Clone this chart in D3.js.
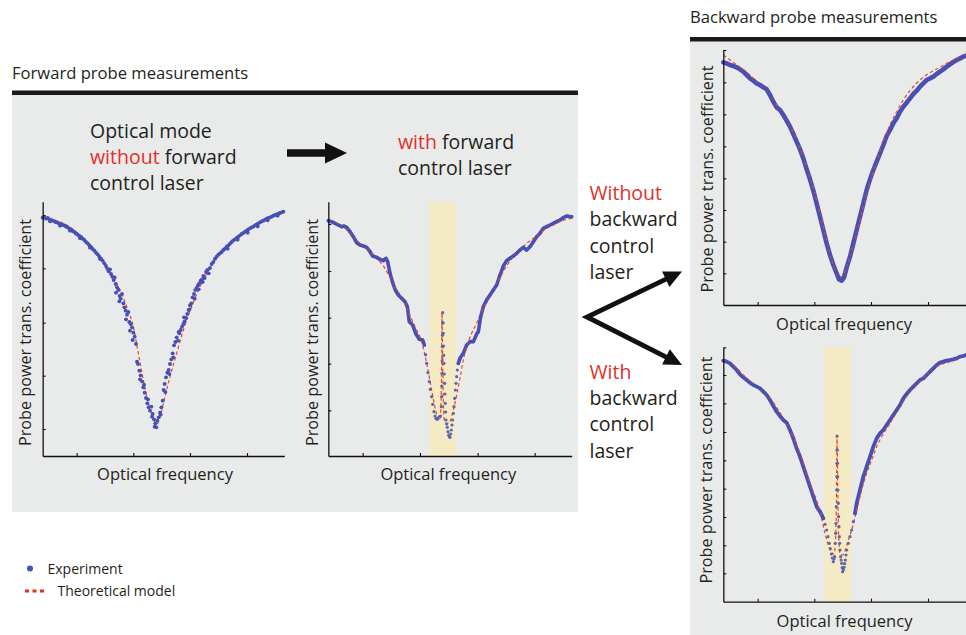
<!DOCTYPE html>
<html>
<head>
<meta charset="utf-8">
<script src="https://cdn.jsdelivr.net/npm/d3@7.9.0/dist/d3.min.js"></script>
<style>
  html, body { margin: 0; padding: 0; background: #fff; }
  svg { display: block; font-family: "Open Sans", sans-serif; }
  .lbl { fill: #231f20; }
  .red { fill: #e0302a; }
</style>
</head>
<body>
<svg id="fig" width="966" height="635"></svg>
<script>
// ---- data (frequency and transmission in arbitrary units) ----

// forward probe, control laser off
const exp1 = [[0,71.5],[0.5,71.6],[1,71.2],[1.5,71.4],[2,71],[2.5,70.8],[3,70.6],[3.5,70.4],[4,70.1],[4.5,70],
  [5,69.7],[5.5,69.5],[6,69.3],[6.5,69.2],[7,68.8],[7.5,68.6],[8,68.2],[8.5,67.9],[9,67.5],[9.5,67.2],
  [10,66.7],[10.5,66.4],[11,66],[11.5,65.7],[12,65.2],[12.5,64.8],[13,64.2],[13.5,63.8],[14,63.2],[14.5,62.7],
  [15,62.1],[15.5,61.6],[16,61],[16.5,60.5],[17,59.8],[17.5,59.2],[18,58.6],[18.5,57.8],[19,57],[19.4,56.2],
  [19.8,55.4],[20.2,56],[20.5,54.6],[20.9,53.8],[21.3,52.8],[21.6,53.6],[21.9,51.6],[22.3,50.6],[22.7,49.8],[23.1,48],
  [23.4,47.2],[23.8,48.6],[24.2,45.8],[24.5,44.6],[24.9,43.6],[25.3,42.4],[25.7,43.2],[26,40.2],[26.4,39.6],[26.8,38.6],
  [27.2,37],[27.6,35.8],[28,33.6],[28.3,28.3],[28.6,27.6],[29,25.6],[29.4,24.2],[29.8,22.4],[30.2,20.6],[30.6,19],
  [31,17.4],[31.4,15.8],[31.8,14.6],[32.2,13.6],[32.6,14.8],[33,12.6],[33.4,11],[33.8,9.8],[34.1,8.6],[34.4,10.6],
  [34.8,11.6],[35.2,13],[35.6,14.6],[36,16.6],[36.3,19.8],[36.6,21.6],[37,23.6],[37.4,25],[37.8,25.8],[38.2,27.6],
  [38.6,29],[39,30.8],[39.4,33.2],[39.8,34.2],[40.2,35.6],[40.6,34.6],[41,36.8],[41.4,37.8],[41.8,38.8],[42.2,39.6],
  [42.6,40.4],[43,41.4],[43.4,42.6],[43.8,43.8],[44.2,45.2],[44.6,45.8],[45,47.6],[45.4,48.6],[45.8,49.8],[46.2,50.4],
  [46.6,51.2],[47,51.8],[47.4,52.6],[47.8,53],[48.2,54],[48.6,53.4],[49,55.2],[49.4,55.8],[49.8,54.8],[50.2,56.4],
  [50.7,57.6],[51.2,58.2],[51.7,59.2],[52.2,59.8],[52.7,60.4],[53.2,60.8],[53.7,61.2],[54.2,61.8],[54.7,62.2],[55.2,62.8],
  [55.7,63.2],[56.2,63.7],[56.7,64.2],[57.2,64.7],[57.7,65],[58.2,65.4],[58.7,65.8],[59.2,66.2],[59.7,66.6],[60.2,66.9],
  [60.7,67.3],[61.2,67.6],[61.7,68],[62.2,68.3],[62.7,68.6],[63.2,68.8],[63.7,69.2],[64.2,69.5],[64.7,69.8],[65.2,70.1],
  [65.7,70.4],[66.2,70.6],[66.7,70.9],[67.2,71.2],[67.7,71.4],[68.2,71.6],[68.7,71.8],[69.2,72.1],[69.7,72.3],[70.2,72.5],
  [70.7,72.7],[71.2,72.9],[71.7,73.1],[72.2,73.3],
  [22,49],[23,46.4],[25,41],[26.2,37.6],[27,34.8],[29.2,23],[30.4,21.4],[31.6,17],[32.8,11.8],[33.6,8.8],
  [35.4,12.4],[36.8,19.2],[38,24.6],[39.2,29.6],[40.8,37.2],[42.4,41.6],[44,44],[45.6,47.2],[46.8,50],[48,52.2],
  [2.2,70.4],[5.2,69.1],[8.2,67.6],[11.2,65.3],[14.2,62.5],[17.2,59.1],[55.5,62.2],[58.5,64.9],[61.5,67],[64.5,68.9],
  [67.5,70.7],[70.5,72.1]];
const theory1 = [[0,71.5],[7.2,69.3],[12.2,65.3],[17.2,59.3],[20.2,55.3],[23.2,49.8],[25.2,44.8],[27.2,38.8],[28.7,30.8],
  [30.2,22.8],[31.7,15.8],[33.2,11.3],[34.2,9.3],[35.2,11.8],[36.7,17.8],[38.2,23.8],[40.2,30.8],[42.2,37.8],[44.7,44.8],
  [47.2,50.8],[50.2,56.3],[53.2,60.8],[57.2,64.8],[62.2,68.3],[67.2,71.3],[72.5,73.3]];
const xTicks1 = [10.2, 27.2, 44.2, 61.3];
const yTicks1 = [72.3, 56.3, 40.0, 24.1, 8.1];

// forward probe, control laser on
const exp2 = [[0,70.6],[1,70.3],[2,69.8],[3,69.3],[4,68.8],[4.7,69],[5.5,68.6],[6.5,67.3],[7.5,65.8],[8.5,64],
  [9.5,63.3],[10.5,63],[11.5,62.6],[12.5,61.3],[13.3,60],[14.5,59.6],[15.5,59],[16.5,58.6],[17.3,59.3],[17.8,58.3],
  [18.5,54.8],[19.3,52],[20.1,49.8],[21,48.3],[22,47.3],[23,46.3],[23.7,44.8],[24.3,40.3],[25.3,39.3],[26.3,36.6],
  [27.3,35],[28.3,34.8],[28.8,33.3],[29.2,30.4],[29.5,27.8],[29.9,25],[30.3,22.3],[30.6,20],[31,17.8],[31.3,15.5],
  [31.7,13.3],[32,12],[32.3,11.3],[32.6,11],[32.9,11.2],[33.3,11.8],[33.7,12],[33.9,14.8],[34,17.8],[34.05,21],
  [34.1,24.8],[34.15,28.6],[34.2,32.8],[34.25,36.2],[34.3,39.8],[34.32,43],[34.4,40],[34.5,36.8],[34.55,33],[34.6,30.2],
  [34.7,27.8],[34.8,24.6],[34.9,21.8],[35,18.6],[35.1,15.8],[35.2,13.2],[35.3,10.8],[35.5,9.6],[35.7,8.6],[35.9,7.3],
  [36.1,6.3],[36.3,5.8],[36.5,5.6],[36.7,6.6],[36.9,7.8],[37.1,9.3],[37.3,10.8],[37.5,12.8],[37.7,14.8],[37.9,17.3],
  [38.1,19.8],[38.3,21.8],[38.5,23.8],[38.7,25.8],[39,27.8],[39.5,29.3],[40.5,30.8],[41.5,33.3],[42.5,34.3],[43.5,34.3],
  [44.5,36.6],[45,37.3],[45.7,41.8],[46.5,44.8],[47.5,46.8],[48.5,48.3],[49.5,49.8],[50.5,51.3],[51.5,54.3],[52.5,57],
  [53.5,58.6],[54.5,59.3],[55.5,60],[56.5,60.8],[57.5,61.8],[58.5,62.6],[59.5,61.8],[60.5,62.8],[61.5,64.3],[62.5,65.8],
  [63.5,66.8],[64.5,68.3],[65.5,68.8],[66.5,69.3],[67.5,69.8],[68.5,70.3],[69.5,70.8],[70.5,71.5],[71.5,72],[73,71.8]];
const theory2 = [[0,70.6],[2.5,69.8],[5,68.3],[7.5,65.8],[10,63.3],[12.5,61.3],[15,58.8],[17,56.3],[18.5,53.6],[20,50.6],
  [22,47.6],[24,43.3],[26,38.8],[28,34.3],[29.5,27.8],[31,19.8],[32.3,13.3],[33.1,10.8],[33.5,11],[33.8,15.8],
  [34,29.8],[34.1,43],[34.3,29.8],[34.5,15.8],[34.8,10.8],[35.3,9.8],[36,9.8],[36.7,10.8],[37.5,13.8],[38.5,18.3],
  [39.5,23.3],[40.5,28.8],[41.5,32.8],[43,36.8],[44.5,39.8],[46,43.3],[47.5,46.3],[49.5,49.8],[51.5,53.6],[53.5,57],
  [55.5,59.8],[57.5,61.8],[59.5,63.8],[61.5,65.3],[63.5,66.8],[65.5,68.3],[67.5,69.3],[69.5,70.3],[71.5,71],[73,71.3]];
const xTicks2 = [10.3, 27.5, 44.8, 61.9];
const yTicks2 = [69.6, 55.5, 41.5, 27.7, 13.7];
const band2 = [30.3, 38.3];

// backward probe, control laser off
const exp3 = [[0,72.8],[1,72.5],[2,72],[3,71.7],[4,71.3],[5,70.7],[6,70],[7,69],[8,68],[9,67.3],
  [10,66.5],[11,66],[12,65.3],[13,64.7],[14,63],[15,61],[16,59.3],[17,58.5],[18,57],[19,55.3],
  [20,53.5],[21,51.3],[22,49],[23,46.7],[24,44],[25,40.7],[26,37.7],[27,34.3],[28,30.5],[29,26.5],
  [30,22.5],[31,18.5],[32,15],[33,12],[34,9.5],[34.7,7.7],[35.5,7.3],[36.2,8.3],[37,11.3],[38,14.5],
  [39,18.5],[40,22.5],[41,26.5],[42,30.5],[43,34.5],[44,37.7],[45,40.5],[46,43],[47,45.5],[48,48],
  [49,50.7],[50,52.5],[51,54.5],[52,56],[53,58],[54,59.5],[55,60.7],[56,62],[57,63.3],[58,64.3],
  [59,65.5],[60,66.5],[61,67.5],[62,68],[63,68.5],[64,69.3],[65,70],[66,70.7],[67,71.5],[68,72.2],
  [69,72.9],[70,73.5],[71,74],[72,74.5],[72.8,74.8]];
const theory3 = [[0,75],[2,73.5],[5,71.3],[8,69],[10,67],[13,64.3],[16,60],[19,55.5],[22,49.5],[25,41.5],
  [28,31.5],[31,19.5],[33,12],[34.5,9],[35.5,8.5],[36.5,10],[38,14.5],[40,21.5],[42,29.5],[44,36.5],
  [46,43],[48,49],[50,54],[52,58],[54,61.5],[56,64.3],[59,67.5],[62,69.7],[65,71.3],[68,73],[71,74.5],[72.8,75.3]];
const xTicks3 = [10.3, 27.3, 44.3, 61.4];
const yTicks3 = [76.5, 66.8, 57.2, 47.6, 38.0, 28.5, 19.0, 9.5];

// backward probe, control laser on
const exp4 = [[0,72.3],[1,72],[2,71.5],[3,70.5],[4,69.5],[5,68.2],[6,67.3],[7,66.5],[8,65.7],[9,65],
  [10,64.5],[11,64],[12,63],[13,62],[14,60.5],[15,58.7],[16,57],[17,55.7],[18,54.5],[19,53.7],
  [20,51.5],[21,49],[22,46],[23,43.5],[24,40.5],[25,37.5],[26,34.5],[27,31.5],[28,28.5],[29,27],
  [30,25],[30.5,23.2],[31,21.5],[31.4,19.5],[31.8,17.5],[32.1,15.9],[32.4,14.3],[32.7,13.1],[33,12],[33.2,12.8],
  [33.4,13.5],[33.6,17.5],[33.7,20.5],[33.8,23.5],[33.9,28.5],[34,33.5],[34.05,37.5],[34.08,41.5],[34.1,45.5],[34.12,49.7],
  [34.2,45.5],[34.25,41.5],[34.3,37.5],[34.4,33.5],[34.5,29.5],[34.6,25.5],[34.7,22.5],[34.8,19.5],[34.9,17.5],[35,15.5],
  [35.2,13.5],[35.35,12.5],[35.5,11.5],[35.65,10.2],[35.8,9],[36,9.6],[36.2,10.3],[36.4,11.4],[36.6,12.5],[36.8,14],
  [37,15.5],[37.5,17.5],[38,19.5],[38.5,21.5],[39,24],[39.5,26.5],[40,29.5],[41,33.5],[42,37.5],[43,40.5],
  [44,43.5],[45,46.5],[46,49],[47,50.5],[48,51.5],[49,53],[50,54.5],[51,56],[52,57.5],[53,59],
  [54,61],[55,62.3],[56,63.5],[57,64.5],[58,65.5],[59,66.5],[60,67],[61,68],[62,69],[63,70],
  [64,71],[65,71.7],[66,72],[67,72.3],[68,72.5],[69,72.7],[70,73],[71,73.5],[72,73.7],[72.8,74]];
const theory4 = [[0,72.5],[3,71],[6,68],[10,64.3],[14,61],[18,55],[22,47],[26,35.5],[29,27],[30.5,20.5],
  [31.5,17],[32.5,14.7],[33.2,14.3],[33.7,19.5],[34,36.5],[34.1,49.7],[34.3,36.5],[34.6,19.5],[35,14.5],[35.8,14],
  [36.6,15.5],[37.5,18.5],[38.5,21.5],[40,27.5],[41.5,33.5],[43,38.5],[44.5,42.5],[46,46.5],[47.5,49.5],[50,53.5],
  [53,58.5],[56,63],[60,67],[64,70.5],[68,72],[72.8,74]];
const xTicks4 = [10.3, 27.3, 44.3, 61.4];
const yTicks4 = [76.3, 68.0, 59.5, 50.9, 42.4, 33.9, 25.4, 16.9, 8.5];
const band4 = [30.3, 38.4];

// ---- layout ----
const svg = d3.select("#fig");
const blue = "#4650b5", red = "#e8452a", panelGrey = "#e9ebea";

const charts = [
  { exp: exp1, theory: theory1, xt: xTicks1, yt: yTicks1, xd: [0, 72.5], yd: [0, 76.3],
    box: [42.67, 201.67, 284.33, 456], dotsOnly: true, band: null, sparse: null, lw: 0,
    ylab: [25, 332.5], xlab: [165, 480] },
  { exp: exp2, theory: theory2, xt: xTicks2, yt: yTicks2, xd: [0, 73], yd: [0, 76.3],
    box: [328.33, 201.67, 571.67, 456], dotsOnly: false, band: band2, sparse: [29.0, 38.9], lw: 3.6,
    ylab: [311.7, 332.5], xlab: [448.3, 480] },
  { exp: exp3, theory: theory3, xt: xTicks3, yt: yTicks3, xd: [0, 73], yd: [0, 76.5],
    box: [723.33, 50, 966.67, 305], dotsOnly: false, band: null, sparse: null, lw: 4.6,
    ylab: [706.7, 179], xlab: [844, 330] },
  { exp: exp4, theory: theory4, xt: xTicks4, yt: yTicks4, xd: [0, 73], yd: [0, 76.3],
    box: [723.33, 347.33, 966.67, 601.67], dotsOnly: false, band: band4, sparse: [30.2, 39.2], lw: 3.8,
    ylab: [706, 470], xlab: [844.5, 626.7] }
];

// panels
svg.append("rect").attr("x", 12).attr("y", 94).attr("width", 566).attr("height", 418).attr("fill", panelGrey);
svg.append("rect").attr("x", 12).attr("y", 90.5).attr("width", 566).attr("height", 4.5).attr("fill", "#1a1a1a");
svg.append("rect").attr("x", 690).attr("y", 41).attr("width", 276).attr("height", 594).attr("fill", panelGrey);
svg.append("rect").attr("x", 690).attr("y", 37).attr("width", 276).attr("height", 4.5).attr("fill", "#1a1a1a");

svg.append("text").attr("class", "lbl").attr("x", 12).attr("y", 78.5).attr("font-size", 16.6)
  .text("Forward probe measurements");
svg.append("text").attr("class", "lbl").attr("x", 690).attr("y", 23).attr("font-size", 16.6)
  .text("Backward probe measurements");

charts.forEach(c => {
  const [x0, y0, x1, y1] = c.box;
  const x = d3.scaleLinear().domain(c.xd).range([x0, x1]);
  const y = d3.scaleLinear().domain(c.yd).range([y1, y0]);
  const g = svg.append("g");

  if (c.band) {
    g.append("rect")
      .attr("x", x(c.band[0])).attr("y", y(c.yd[1]))
      .attr("width", x(c.band[1]) - x(c.band[0])).attr("height", y(c.yd[0]) - y(c.yd[1]))
      .attr("fill", "#f4ebc4");
  }

  const inSparse = d => c.sparse && d[0] > c.sparse[0] && d[0] < c.sparse[1];

  if (!c.dotsOnly) {
    g.append("path")
      .attr("d", d3.line().defined(d => !inSparse(d)).x(d => x(d[0])).y(d => y(d[1]))(c.exp))
      .attr("fill", "none").attr("stroke", blue).attr("stroke-width", c.lw)
      .attr("stroke-linejoin", "round").attr("stroke-linecap", "round");
  }

  g.append("path")
    .attr("d", d3.line().curve(d3.curveMonotoneX).x(d => x(d[0])).y(d => y(d[1]))(c.theory))
    .attr("fill", "none").attr("stroke", red).attr("stroke-width", 1.2)
    .attr("stroke-dasharray", "3.5,2.5");

  g.selectAll("circle.exp").data(c.exp).join("circle")
    .attr("class", "exp")
    .attr("cx", d => x(d[0])).attr("cy", d => y(d[1]))
    .attr("r", c.dotsOnly ? 1.95 : 1.6)
    .attr("fill", d => inSparse(d) ? "#5d66b2" : blue);

  const ax = g.append("g").attr("transform", `translate(0,${y1})`)
    .call(d3.axisBottom(x).tickValues(c.xt).tickSize(-3).tickSizeOuter(0).tickFormat(""));
  const ay = g.append("g").attr("transform", `translate(${x0},0)`)
    .call(d3.axisLeft(y).tickValues(c.yt).tickSize(-3).tickSizeOuter(0).tickFormat(""));
  [ax, ay].forEach(a => {
    a.select(".domain").attr("stroke", "#111").attr("stroke-width", 1.3);
    a.selectAll(".tick line").attr("stroke", "#111").attr("stroke-width", 1.1);
  });

  g.append("text").attr("class", "lbl").attr("font-size", 16.2).attr("text-anchor", "middle")
    .attr("transform", `translate(${c.ylab[0]},${c.ylab[1]}) rotate(-90)`).attr("dy", "0.36em")
    .text("Probe power trans. coefficient");
  g.append("text").attr("class", "lbl").attr("font-size", 16.5).attr("text-anchor", "middle")
    .attr("x", c.xlab[0]).attr("y", c.xlab[1]).text("Optical frequency");
});

// captions
function caption(xp, lines, fs, lh, y0) {
  const t = svg.append("text").attr("class", "lbl").attr("font-size", fs);
  lines.forEach((ln, i) => {
    const tl = t.append("tspan").attr("x", xp).attr("y", y0 + i * lh);
    ln.forEach(([s, isRed]) => tl.append("tspan").attr("class", isRed ? "red" : "lbl").text(s));
  });
}
caption(90, [[["Optical mode"]], [["without", 1], [" forward"]], [["control laser"]]], 19.5, 26, 137.5);
caption(398, [[["with", 1], [" forward"]], [["control laser"]]], 19.5, 26, 148.5);
caption(589.5, [[["Without", 1]], [["backward"]], [["control"]], [["laser"]]], 19.5, 26.4, 200);
caption(589.5, [[["With", 1]], [["backward"]], [["control"]], [["laser"]]], 19.5, 26.4, 378.5);

// arrows
function head(x1, y1, x2, y2, len, half) {
  const a = Math.atan2(y2 - y1, x2 - x1);
  const bx = x2 - len * Math.cos(a), by = y2 - len * Math.sin(a);
  const px = -Math.sin(a) * half, py = Math.cos(a) * half;
  svg.append("polygon").attr("fill", "#111")
    .attr("points", [[x2, y2], [bx + px, by + py], [bx - px, by - py]].map(p => p.join(",")).join(" "));
  return [bx + 2 * Math.cos(a), by + 2 * Math.sin(a)];
}
let b = head(287, 153, 347, 153, 22, 10.5);
svg.append("line").attr("x1", 287).attr("y1", 153).attr("x2", b[0]).attr("y2", b[1])
  .attr("stroke", "#111").attr("stroke-width", 7.3);

const vx = 587, vy = 317;
const t1 = head(vx, vy, 682, 271.5, 18, 8.5);
const t2 = head(vx, vy, 682, 365, 18, 8.5);
svg.append("path").attr("d", `M${t1[0]},${t1[1]}L${vx},${vy}L${t2[0]},${t2[1]}`)
  .attr("fill", "none").attr("stroke", "#111").attr("stroke-width", 4.8).attr("stroke-linejoin", "miter");

// legend
svg.append("circle").attr("cx", 30).attr("cy", 568.5).attr("r", 3).attr("fill", blue);
svg.append("text").attr("class", "lbl").attr("x", 47.5).attr("y", 573.5).attr("font-size", 14).text("Experiment");
svg.append("line").attr("x1", 25).attr("x2", 46).attr("y1", 591).attr("y2", 591)
  .attr("stroke", "#e22d1f").attr("stroke-width", 3).attr("stroke-dasharray", "4,3.5");
svg.append("text").attr("class", "lbl").attr("x", 57.5).attr("y", 596).attr("font-size", 14).text("Theoretical model");
</script>
</body>
</html>
